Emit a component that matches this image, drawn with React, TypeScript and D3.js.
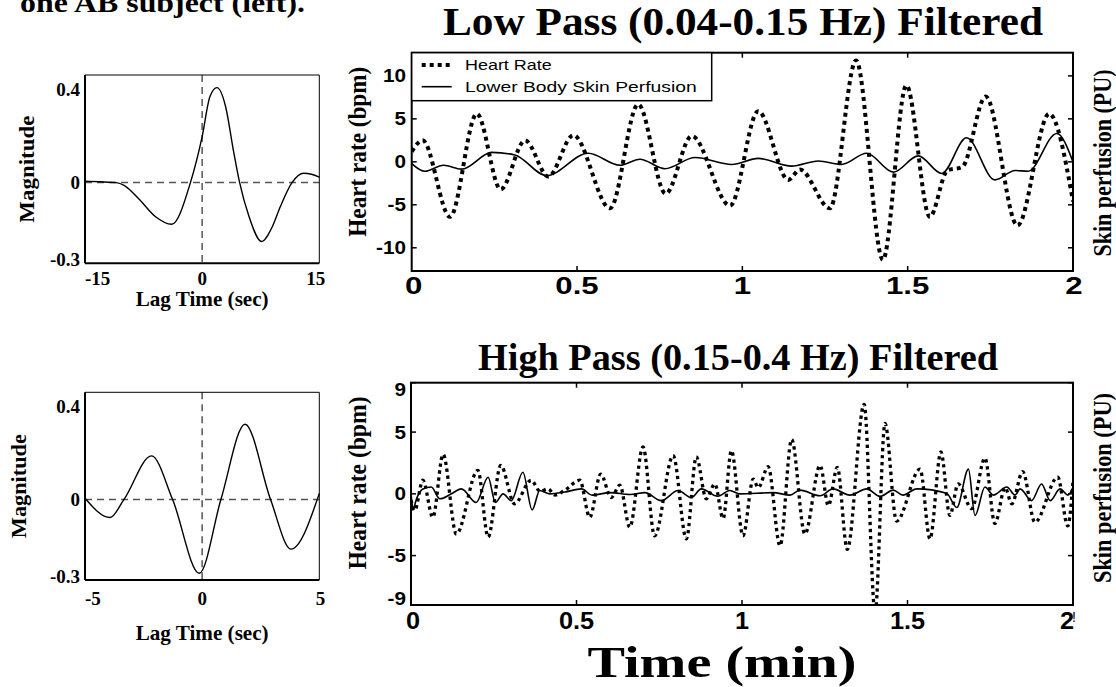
import React from 'react';
import * as d3 from 'd3';

const W = 1116, H = 687;
const SERIF = '"Liberation Serif", "Times New Roman", serif';
const SANS = '"Liberation Sans", Arial, sans-serif';

// ---------- data ----------
// Cross-correlation, low-pass (lag in sec)
const lagLow = [-15, -13, -11, -10, -8, -6, -3.9, -1.5, 0, 1, 1.9, 3, 4, 4.8, 6, 7.6, 9, 10, 11.5, 13, 14, 15];
const ccfLow = [0.005, 0.003, 0.0, -0.01, -0.064, -0.126, -0.155, 0, 0.171, 0.32, 0.353, 0.283, 0.12, 0, -0.126, -0.219, -0.163, -0.09, 0, 0.035, 0.031, 0.02];
// Cross-correlation, high-pass
const lagHigh = [-5, -3.93, -3.34, -2.16, -1.26, -0.12, 0.8, 1.83, 2.92, 3.79, 5];
const ccfHigh = [0.005, -0.067, 0, 0.163, 0, -0.275, 0, 0.281, 0, -0.185, 0.023];

// Low pass time series (time in min)
const lowHrT = [0, 0.033, 0.116, 0.197, 0.269, 0.343, 0.413, 0.489, 0.6, 0.685, 0.768, 0.847, 0.963, 1.048, 1.139, 1.174, 1.265, 1.344, 1.425, 1.496, 1.567, 1.62, 1.665, 1.736, 1.832, 1.928, 2.0];
const lowHr = [1.2, 2.5, -6.4, 5.6, -3.2, 2.5, -1.7, 3.1, -5.4, 6.7, -3.7, 3.0, -5.1, 5.9, -2.1, -0.9, -5.4, 11.8, -11.4, 8.9, -6.4, -1.0, -0.6, 7.6, -7.4, 5.6, -4.6];
const lowPfT = [0, 0.04, 0.096, 0.151, 0.242, 0.312, 0.408, 0.534, 0.63, 0.69, 0.766, 0.857, 0.968, 1.048, 1.149, 1.23, 1.3, 1.376, 1.457, 1.532, 1.603, 1.678, 1.764, 1.825, 1.864, 1.951, 2.0];
const lowPf = [-0.2, -1.1, -0.4, -0.85, 1.1, 0.8, -1.6, 1.0, -0.4, 0.3, -0.8, 0.5, -0.3, 0.4, -0.5, 0.1, -0.3, 1.0, -1.2, 0.7, -1.35, 2.8, -2.1, -1.0, -1.1, 3.3, 0.0];

// High pass time series
const highHrT = [0, 0.011, 0.036, 0.066, 0.097, 0.137, 0.202, 0.233, 0.271, 0.313, 0.363, 0.39, 0.414, 0.435, 0.465, 0.51, 0.54, 0.573, 0.605, 0.631, 0.661, 0.701, 0.736, 0.792, 0.832, 0.862, 0.892, 0.918, 0.943, 0.968, 1.003, 1.034, 1.049, 1.079, 1.115, 1.15, 1.19, 1.236, 1.261, 1.288, 1.318, 1.369, 1.402, 1.432, 1.467, 1.538, 1.568, 1.601, 1.628, 1.653, 1.694, 1.734, 1.764, 1.795, 1.815, 1.848, 1.885, 1.954, 1.984, 2.0];
const highHr = [-0.5, -1.35, 1.1, -1.9, 3.2, -3.25, 1.9, -3.5, 2.3, -0.8, 1.1, 0.2, 0.4, -0.1, 0.3, 1.1, -1.9, 1.6, -0.3, 0.7, -2.7, 3.8, -3.4, 3.1, -3.65, 3.0, -0.4, 0.8, -2.0, 3.5, -3.4, 1.2, 0.5, 2.2, -4.2, 4.4, -3.25, 2.3, -0.95, 2.15, -4.5, 7.25, -9.6, 5.7, -2.2, 2.0, -3.65, 3.4, -1.75, 0.8, -1.2, 2.9, -2.4, 0.5, -0.8, 1.8, -2.3, 1.35, -2.6, 1.0];
const highPfT = [0, 0.006, 0.018, 0.036, 0.061, 0.087, 0.122, 0.152, 0.197, 0.233, 0.255, 0.278, 0.303, 0.338, 0.366, 0.389, 0.42, 0.465, 0.515, 0.547, 0.601, 0.662, 0.707, 0.756, 0.807, 0.847, 0.877, 0.927, 0.963, 0.994, 1.094, 1.145, 1.175, 1.236, 1.275, 1.326, 1.377, 1.417, 1.457, 1.486, 1.528, 1.618, 1.649, 1.684, 1.704, 1.734, 1.759, 1.8, 1.825, 1.84, 1.875, 1.905, 1.931, 1.961, 1.985, 2.0];
const highPf = [0.1, -1.2, -0.3, 0.4, 0.55, -0.4, 0, 0.4, -0.7, 1.35, -0.7, 0, -0.55, 1.75, -1.3, 0.27, 0, 0.15, 0.4, -0.1, 0.1, -0.05, 0.1, -0.55, 0.27, -0.3, 0.4, -0.2, 0.27, 0, 0.1, -0.1, 0.3, -0.15, 0.4, -0.1, 0.4, -0.2, 0.3, -0.1, 0.4, 0.05, -1.1, 2.0, -1.75, 0.55, -0.1, 0.55, -0.1, 0.4, -0.55, 0.8, -0.55, 0.4, -0.1, 0.55];

// ticks
const timeTicks = [0, 0.5, 1, 1.5, 2];
const timeTickLabels = ['0', '0.5', '1', '1.5', '2'];
const lowYTicks = [10, 5, 0, -5, -10];
const highYTicks = [9, 5, 0, -5, -9];
const magTicks = [0.4, 0, -0.3];
const magTickLabels = ['0.4', '0', '-0.3'];
const lagLowTicks = [-15, 0, 15];
const lagHighTicks = [-5, 0, 5];

const legendLabels = ['Heart Rate', 'Lower Body Skin Perfusion'];

// ---------- helpers ----------
function SText(p: any) {
  const { x, y, sx = 1, anchor = 'middle', size, weight = 'bold', family = SANS, len, children } = p;
  return (
    <text
      transform={`translate(${x},${y}) scale(${sx},1)`}
      textAnchor={anchor}
      fontSize={size}
      fontWeight={weight}
      fontFamily={family}
      textLength={len}
      lengthAdjust={len ? 'spacingAndGlyphs' : undefined}
      fill="#000"
    >
      {children}
    </text>
  );
}

function RotText(p: any) {
  const { cx, cy, size, len, sx = 1.2, children } = p;
  return (
    <text
      transform={`translate(${cx},${cy}) scale(${sx},1) rotate(-90)`}
      x={0}
      y={size * 0.33}
      textAnchor="middle"
      fontSize={size}
      fontWeight="bold"
      fontFamily={SERIF}
      textLength={len}
      lengthAdjust="spacingAndGlyphs"
      fill="#000"
    >
      {children}
    </text>
  );
}

function zip(a: number[], b: number[]) {
  return a.map((v, i) => [v, b[i]] as [number, number]);
}

// ---------- Cross-correlation panel ----------
function CcfPanel(p: any) {
  const { box, lag, ccf, xTicks, labelBase, lagTitleBase, magCx, magLen } = p;
  const x = d3.scaleLinear().domain([xTicks[0], xTicks[xTicks.length - 1]]).range([box.x0, box.x1]);
  const y = d3.scaleLinear().domain([-0.3, 0.4]).range([box.y1, box.y0]);
  const line = d3.line<[number, number]>().x(d => x(d[0])).y(d => y(d[1])).curve(d3.curveMonotoneX);
  return (
    <g>
      <line x1={x(0)} x2={x(0)} y1={box.y0} y2={box.y1} stroke="#555" strokeWidth={1.5} strokeDasharray="7 5" />
      <line x1={box.x0} x2={box.x1} y1={y(0)} y2={y(0)} stroke="#555" strokeWidth={1.5} strokeDasharray="7 5" />
      <path d={line(zip(lag, ccf)) || ''} fill="none" stroke="#000" strokeWidth={1.4} />
      <line x1={box.x0} x2={box.x1} y1={box.y0} y2={box.y0} stroke="#000" strokeWidth={1} />
      <line x1={box.x1} x2={box.x1} y1={box.y0} y2={box.y1} stroke="#000" strokeWidth={1} />
      <line x1={box.x0} x2={box.x0} y1={box.y0} y2={box.y1} stroke="#000" strokeWidth={2} />
      <line x1={box.x0} x2={box.x1} y1={box.y1} y2={box.y1} stroke="#000" strokeWidth={2} />
      {magTicks.map((t, i) => {
        const yy = Math.min(Math.max(y(t), box.y0 + 14), box.y1 - 4);
        return (
          <SText key={i} x={80} y={yy + 6.5} anchor="end" size={19} family={SERIF}>{magTickLabels[i]}</SText>
        );
      })}
      {xTicks.map((t: number, i: number) => {
        const anchor = i === 0 ? 'start' : i === xTicks.length - 1 ? 'end' : 'middle';
        const xx = i === 0 ? x(t) : i === xTicks.length - 1 ? x(t) + 6 : x(t);
        return <SText key={i} x={xx} y={labelBase} anchor={anchor} size={19} family={SERIF}>{String(t)}</SText>;
      })}
      <SText x={(box.x0 + box.x1) / 2} y={lagTitleBase} size={21} family={SERIF} len={133}>Lag Time (sec)</SText>
      <RotText cx={magCx} cy={(box.y0 + box.y1) / 2} size={21} len={magLen} sx={1.0}>Magnitude</RotText>
    </g>
  );
}

// ---------- Time series panel ----------
function SeriesPanel(p: any) {
  const { id, box, yDomain, yTicks, hrT, hr, pfT, pf, dotW, dotDash, xSize, xSx, xBase, lastLabelShift, hrLabelCy, hrLen, pfCy, pfLen } = p;
  const x = d3.scaleLinear().domain([0, 2]).range([box.x0, box.x1]);
  const y = d3.scaleLinear().domain(yDomain).range([box.y1, box.y0]);
  const yR = d3.scaleLinear().domain(yDomain).range([box.y1, box.y0]);
  const lineHr = d3.line<[number, number]>().x(d => x(d[0])).y(d => y(d[1])).curve(d3.curveMonotoneX);
  const linePf = d3.line<[number, number]>().x(d => x(d[0])).y(d => yR(d[1])).curve(d3.curveMonotoneX);
  const tl = 5;
  return (
    <g>
      <defs>
        <clipPath id={id}>
          <rect x={box.x0} y={box.y0} width={box.x1 - box.x0} height={box.y1 - box.y0} />
        </clipPath>
      </defs>
      <g clipPath={`url(#${id})`}>
        <path d={linePf(zip(pfT, pf)) || ''} fill="none" stroke="#000" strokeWidth={1.6} />
        <path d={lineHr(zip(hrT, hr)) || ''} fill="none" stroke="#000" strokeWidth={dotW} strokeDasharray={dotDash} />
      </g>
      {timeTicks.slice(1, -1).map((t, i) => (
        <g key={'xt' + i}>
          <line x1={x(t)} x2={x(t)} y1={box.y1} y2={box.y1 - tl} stroke="#000" strokeWidth={1.5} />
          <line x1={x(t)} x2={x(t)} y1={box.y0} y2={box.y0 + tl} stroke="#000" strokeWidth={1.5} />
        </g>
      ))}
      {yTicks.map((t: number, i: number) => (
        <g key={'yt' + i}>
          <line x1={box.x0} x2={box.x0 + tl} y1={y(t)} y2={y(t)} stroke="#000" strokeWidth={1.5} />
          <line x1={box.x1} x2={box.x1 - tl} y1={yR(t)} y2={yR(t)} stroke="#000" strokeWidth={1.5} />
        </g>
      ))}
      <rect x={box.x0} y={box.y0} width={box.x1 - box.x0} height={box.y1 - box.y0} fill="none" stroke="#000" strokeWidth={2} />
      {yTicks.map((t: number, i: number) => {
        const yy = Math.min(Math.max(y(t), box.y0 + 7), box.y1 - 7);
        return <SText key={'yl' + i} x={406} y={yy + 6.5} anchor="end" size={18} sx={1.15}>{String(t)}</SText>;
      })}
      {timeTicks.map((t, i) => {
        const last = i === timeTicks.length - 1;
        return (
          <SText key={'xl' + i} x={x(t) + (last ? lastLabelShift : 0) + (i === 0 ? 2 : 0)} y={xBase} size={xSize} sx={xSx}>{timeTickLabels[i]}</SText>
        );
      })}
      <RotText cx={358} cy={hrLabelCy} size={21} len={hrLen} sx={1.2}>Heart rate (bpm)</RotText>
      <RotText cx={1103} cy={pfCy} size={22} len={pfLen} sx={1.15}>Skin perfusion (PU)</RotText>
    </g>
  );
}

export default function App() {
  const lowBox = { x0: 411.7, x1: 1073, y0: 52.7, y1: 271 };
  const highBox = { x0: 411, x1: 1073, y0: 382.7, y1: 605 };
  return (
    <svg width={W} height={H} viewBox={`0 0 ${W} ${H}`} style={{ position: 'absolute', left: 0, top: 0, background: '#fff' }}>
      <rect x={0} y={0} width={W} height={H} fill="#fff" />
      <SText x={20} y={12} anchor="start" size={28} family={SERIF} len={285}>one AB subject (left).</SText>

      <CcfPanel box={{ x0: 85, x1: 319.3, y0: 75, y1: 263.3 }} lag={lagLow} ccf={ccfLow} xTicks={lagLowTicks} labelBase={285} lagTitleBase={306} magCx={27} magLen={107} />
      <CcfPanel box={{ x0: 85, x1: 319.3, y0: 392.3, y1: 580 }} lag={lagHigh} ccf={ccfHigh} xTicks={lagHighTicks} labelBase={605} lagTitleBase={640} magCx={19} magLen={104} />

      <SText x={743} y={35} size={40} family={SERIF} len={600}>Low Pass (0.04-0.15 Hz) Filtered</SText>
      <SeriesPanel id="clipLow" box={lowBox} yDomain={[-12.7, 12.7]} yTicks={lowYTicks}
        hrT={lowHrT} hr={lowHr} pfT={lowPfT} pf={lowPf} dotW={4} dotDash="4 4"
        xSize={24} xSx={1.3} xBase={294} lastLabelShift={1} hrLabelCy={151.7} hrLen={170} pfCy={163} pfLen={187} />

      <g>
        <rect x={lowBox.x0} y={lowBox.y0} width={300} height={48} fill="#fff" stroke="#000" strokeWidth={1.5} />
        <line x1={421.7} x2={453} y1={65} y2={65} stroke="#000" strokeWidth={4} strokeDasharray="4 4" />
        <line x1={421.7} x2={451.7} y1={86.7} y2={86.7} stroke="#000" strokeWidth={1.6} />
        <SText x={465} y={70.3} anchor="start" size={15} weight="normal" len={86.7}>{legendLabels[0]}</SText>
        <SText x={465} y={92} anchor="start" size={15} weight="normal" len={231.7}>{legendLabels[1]}</SText>
      </g>

      <SText x={738} y={370} size={38} family={SERIF} len={520}>High Pass (0.15-0.4 Hz) Filtered</SText>
      <SeriesPanel id="clipHigh" box={highBox} yDomain={[-9, 9]} yTicks={highYTicks}
        hrT={highHrT} hr={highHr} pfT={highPfT} pf={highPf} dotW={3.3} dotDash="3.3 3.7"
        xSize={23} xSx={1.1} xBase={629} lastLabelShift={-6} hrLabelCy={483} hrLen={173} pfCy={488} pfLen={190} />
      <SText x={1072} y={622} anchor="start" size={14} weight="normal">!</SText>

      <SText x={722} y={677} size={44} family={SERIF} len={269}>Time (min)</SText>
    </svg>
  );
}
